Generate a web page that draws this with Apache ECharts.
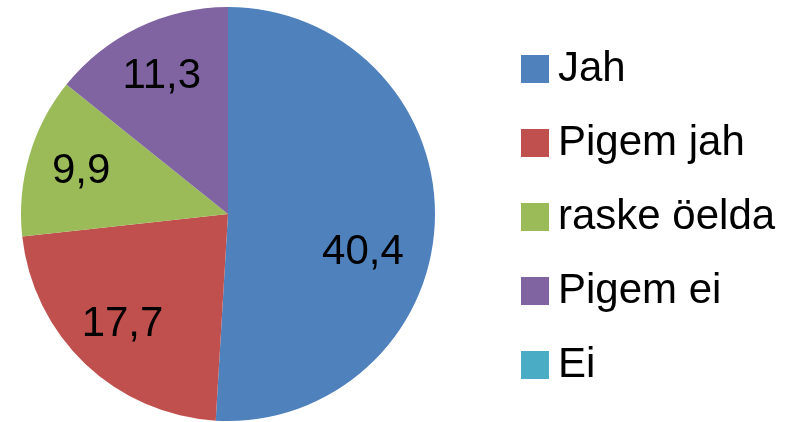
<!DOCTYPE html>
<html>
<head>
<meta charset="utf-8">
<script src="https://cdn.jsdelivr.net/npm/echarts@6/dist/echarts.min.js"></script>
<style>
  html, body { margin: 0; padding: 0; background: #ffffff; }
  #container1 { width: 786px; height: 422px; }
</style>
</head>
<body>
<div id="container1"></div>
<script>
var categories = ["Jah", "Pigem jah", "raske öelda", "Pigem ei", "Ei"];
var values = [40.4, 17.7, 9.9, 11.3, 0];
var colors = ["#4F81BD", "#C0504D", "#9BBB59", "#8064A2", "#4BACC6"];

var pieData = [];
var labelData = [];
for (var i = 0; i < categories.length; i++) {
    pieData.push({ value: values[i], name: categories[i], itemStyle: { color: colors[i] } });
    labelData.push({ value: values[i], name: categories[i], itemStyle: { color: "rgba(0,0,0,0)" } });
}
// 第一块的标签在原图里偏下一点
labelData[0].label = { offset: [-18, 34] };

var font = "Liberation Sans";
var echart1 = echarts.init(document.getElementById("container1"));
var option = {
    animation: false,
    legend: {
        orient: "vertical",
        left: 516,
        top: 43,
        icon: "rect",
        itemWidth: 28,
        itemHeight: 28,
        itemGap: 32,
        selectedMode: false,
        data: categories,
        textStyle: {
            fontFamily: font,
            fontSize: 42,
            lineHeight: 42,
            color: "#000",
            padding: [0, 0, 0, 4]
        }
    },
    series: [
        {
            type: "pie",
            name: "slices",
            center: [228, 214],
            radius: [0, 207],
            startAngle: 90,
            clockwise: true,
            label: { show: false },
            labelLine: { show: false },
            emphasis: { disabled: true },
            itemStyle: { borderWidth: 0 },
            data: pieData
        },
        {
            // 透明的一层，只用来把数字标签往外放
            type: "pie",
            name: "labels",
            center: [228, 214],
            radius: [0, 300],
            startAngle: 90,
            clockwise: true,
            silent: true,
            emphasis: { disabled: true },
            labelLine: { show: false },
            label: {
                show: true,
                position: "inside",
                fontFamily: font,
                fontSize: 42,
                color: "#000",
                formatter: function (p) {
                    if (p.value === 0) return "";
                    return String(p.value).replace(".", ",");
                }
            },
            data: labelData
        }
    ]
};
echart1.setOption(option);
</script>
</body>
</html>
